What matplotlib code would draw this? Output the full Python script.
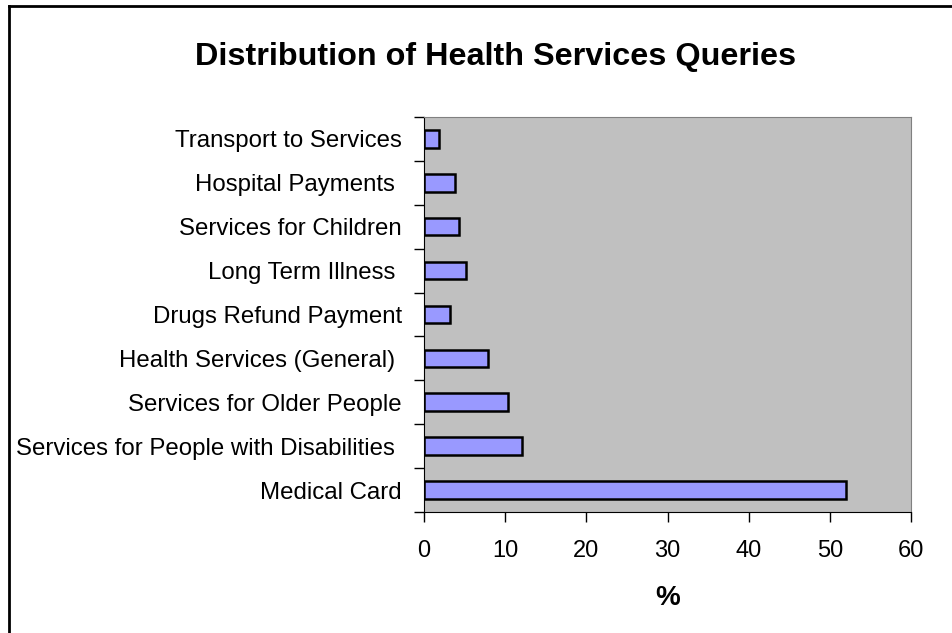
import matplotlib.pyplot as plt
from matplotlib.lines import Line2D

plt.rcParams['font.family'] = ['Liberation Sans', 'DejaVu Sans']

# query categories, bottom to top
categories = ['Medical Card',
              'Services for People with Disabilities ',
              'Services for Older People',
              'Health Services (General) ',
              'Drugs Refund Payment',
              'Long Term Illness ',
              'Services for Children',
              'Hospital Payments ',
              'Transport to Services']
percent = [51.9, 12.1, 10.4, 7.9, 3.2, 5.2, 4.3, 3.8, 1.8]
x_ticks = [0, 10, 20, 30, 40, 50, 60]

fig = plt.figure(figsize=(9.53, 6.33), dpi=100)
ax = fig.add_axes([0.4449, 0.1912, 0.5114, 0.624])
ax.set_facecolor('#C0C0C0')

ypos = list(range(len(categories)))
ax.barh(ypos, percent, height=0.4, color='#9999FF', edgecolor='black', linewidth=1.8)

ax.set_xlim(0, 60)
ax.set_ylim(-0.5, len(categories) - 0.5)
ax.set_xticks(x_ticks)
ax.set_xticklabels([str(t) for t in x_ticks], fontsize=17)
ax.tick_params(axis='x', direction='out', length=7, width=1, pad=13)

# category labels centred, tick marks on the boundaries
ax.set_yticks(ypos)
ax.set_yticklabels(categories, fontsize=17.3)
ax.set_yticks([i - 0.5 for i in range(len(categories) + 1)], minor=True)
ax.tick_params(axis='y', which='major', length=0, pad=16)
ax.tick_params(axis='y', which='minor', direction='out', length=7, width=1)

for side in ['top', 'right']:
    ax.spines[side].set_color('#808080')
for side in ['left', 'bottom']:
    ax.spines[side].set_color('black')

ax.set_xlabel('%', fontsize=20, fontweight='bold', labelpad=17)
fig.text(0.52, 0.91, 'Distribution of Health Services Queries', ha='center', va='center',
         fontsize=23.3, fontweight='bold')

# chart border (runs off the right and bottom edges)
fig.add_artist(Line2D([9 / 953, 9 / 953], [0, 1 - 6 / 633], transform=fig.transFigure,
                      color='black', linewidth=2))
fig.add_artist(Line2D([9 / 953, 1], [1 - 6 / 633, 1 - 6 / 633], transform=fig.transFigure,
                      color='black', linewidth=2))

fig.savefig('out.png', dpi=100)
